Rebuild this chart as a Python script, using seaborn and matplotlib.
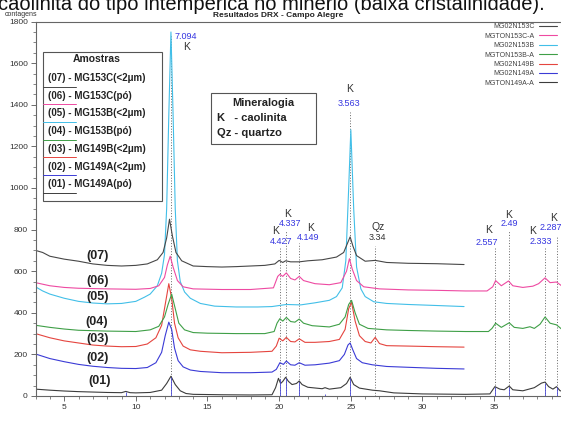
import matplotlib
matplotlib.use("Agg")
import matplotlib.pyplot as plt
import matplotlib.patches as mpatches
from matplotlib.ticker import MultipleLocator
import pandas as pd
import seaborn as sns

# -------------------------------------------------------------
# 1) DADOS – difratogramas (2theta, contagens)
# -------------------------------------------------------------
tt_01 = [3, 4, 5, 6, 7, 8, 9, 9.3, 9.6, 10, 11, 11.8, 12.15, 12.45, 12.75, 13.1, 13.5, 14, 16, 18,
         19.5, 19.75, 19.95, 20.1, 20.25, 20.45, 20.65, 20.9, 21.2, 21.4, 21.6, 22, 23, 23.2, 23.5,
         24.3, 24.7, 24.95, 25.2, 25.6, 26.5, 27, 28, 30, 33, 34.7, 35.05, 35.4, 35.7, 36.05, 36.3,
         37, 37.8, 38.3, 38.55, 38.8, 39.1, 39.35, 39.6, 40.5]
ct_01 = [33, 28, 24, 21, 19, 17, 16, 22, 16, 15, 17, 28, 60, 95, 55, 25, 12, 8, 6, 5,
         6, 40, 85, 60, 70, 90, 70, 55, 60, 72, 55, 42, 35, 40, 33,
         40, 60, 90, 55, 38, 28, 25, 15, 10, 8, 10, 45, 33, 30, 48, 30,
         25, 40, 62, 67, 45, 33, 45, 25, 20]

tt_02 = [3, 4, 5, 6, 7, 8, 9, 10, 10.8, 11.4, 11.8, 12.05, 12.3, 12.5, 12.7, 12.95, 13.3, 13.8,
         14.5, 16, 18, 19.5, 19.8, 20.05, 20.3, 20.5, 20.8, 21.1, 21.4, 21.8, 22.5, 23.5, 24.2,
         24.55, 24.8, 24.95, 25.15, 25.4, 25.8, 26.5, 27.5, 29, 31, 32.9]
ct_02 = [202, 180, 165, 152, 143, 137, 133, 132, 137, 160, 210, 290, 355, 320, 230, 170, 140, 125,
         118, 112, 112, 115, 128, 160, 152, 168, 150, 148, 160, 148, 150, 158, 170,
         200, 245, 255, 220, 180, 160, 150, 142, 138, 133, 130]

tt_03 = [3, 4, 5, 6, 7, 8, 9, 10, 10.8, 11.4, 11.8, 12.05, 12.3, 12.5, 12.7, 12.95, 13.3, 13.8,
         14.5, 16, 18, 19.5, 19.8, 20.0, 20.25, 20.5, 20.8, 21.1, 21.4, 21.8, 22.5, 23.5, 24.2,
         24.6, 24.85, 25.05, 25.3, 25.6, 26.0, 26.4, 26.7, 27.0, 27.5, 29, 31, 32.9]
ct_03 = [300, 280, 265, 255, 245, 240, 237, 238, 250, 280, 340, 440, 540, 470, 350, 280, 240, 222,
         215, 208, 210, 215, 240, 278, 265, 282, 262, 260, 275, 258, 258, 262, 272,
         320, 420, 450, 360, 290, 262, 255, 282, 252, 242, 240, 237, 235]

tt_04 = [3, 4, 5, 6, 8, 10, 11, 11.6, 12.0, 12.25, 12.5, 12.75, 13.0, 13.4, 14, 15, 17, 19,
         19.65, 19.85, 20.05, 20.25, 20.5, 20.8, 21.1, 21.4, 21.7, 22.3, 23.5, 24.2, 24.6, 24.85,
         25.05, 25.3, 25.6, 26.2, 27.5, 29, 31, 33, 34.6, 34.85, 35.1, 35.5, 36.05, 36.4, 37.0,
         37.5, 37.8, 38.2, 38.55, 38.9, 39.35, 39.7, 40.5]
ct_04 = [340, 330, 322, 316, 312, 310, 318, 335, 380, 440, 490, 420, 350, 318, 305, 302, 300, 300,
         310, 350, 372, 360, 378, 358, 355, 370, 350, 338, 332, 345, 380, 440,
         460, 400, 345, 325, 318, 315, 312, 310, 310, 325, 350, 330, 352, 330, 325,
         333, 325, 345, 380, 350, 342, 322, 318]

tt_05 = [3, 3.5, 4, 5, 6, 7, 8, 9, 10, 10.6, 11.0, 11.5, 11.8, 12.0, 12.15, 12.3, 12.45, 12.6,
         12.75, 12.9, 13.1, 13.4, 13.8, 14.5, 15.5, 17, 18.5, 19.5, 20.5, 21.5, 22.5, 23.5, 24.0,
         24.4, 24.65, 24.85, 25.0, 25.2, 25.4, 25.7, 26.0, 26.6, 27.5, 29, 31, 32.9]
ct_05 = [525, 505, 490, 470, 455, 447, 443, 445, 455, 475, 490, 530, 590, 680, 900, 1350, 1750, 1350,
         900, 650, 550, 500, 470, 445, 432, 428, 428, 430, 440, 438, 448, 460, 478,
         520, 650, 1000, 1280, 900, 620, 515, 478, 453, 445, 440, 435, 430]

tt_06 = [3, 4, 5, 6, 8, 10, 11, 11.6, 12.0, 12.2, 12.4, 12.6, 12.9, 13.3, 14, 16, 18, 19.6,
         19.9, 20.05, 20.25, 20.5, 20.8, 21.1, 21.4, 21.7, 22.5, 23.5, 24.3, 24.7, 24.9, 25.1,
         25.4, 25.9, 27, 29, 31, 33, 34.5, 34.9, 35.1, 35.5, 36.0, 36.3, 37, 37.7, 38.1, 38.55,
         38.9, 39.35, 39.7, 40.5]
ct_06 = [545, 530, 522, 518, 515, 513, 517, 530, 570, 630, 672, 620, 555, 525, 515, 512, 512, 520,
         575, 585, 575, 592, 565, 558, 575, 555, 540, 535, 545, 600, 660, 610,
         555, 525, 515, 510, 508, 505, 505, 525, 555, 530, 553, 530, 522, 528, 540, 568,
         545, 548, 530, 525]

tt_07 = [3, 3.5, 4, 5, 6, 7, 8, 9, 10, 10.8, 11.5, 11.9, 12.15, 12.35, 12.55, 12.8, 13.2, 14, 15,
         16, 17, 18, 19, 19.7, 20.0, 20.25, 20.45, 20.8, 21.4, 22, 23, 24, 24.5, 24.8, 24.95,
         25.15, 25.4, 26, 26.7, 27.5, 29, 31, 32.9]
ct_07 = [700, 690, 672, 658, 648, 635, 628, 625, 628, 635, 655, 690, 760, 850, 770, 690, 650, 625, 622,
         620, 622, 625, 628, 635, 652, 642, 650, 645, 645, 650, 655, 668, 690, 740, 765,
         720, 675, 648, 652, 642, 638, 636, 632]

amostra_tag = ["(01)", "(02)", "(03)", "(04)", "(05)", "(06)", "(07)"]
amostra_nome = ["(01) - MG149A(pó)", "(02) - MG149A(<2μm)", "(03) - MG149B(<2μm)",
                "(04) - MG153B(pó)", "(05) - MG153B(<2μm)", "(06) - MG153C(pó)",
                "(07) - MG153C(<2μm)"]
arquivo = ["MGTON149A-A", "MG02N149A", "MG02N149B", "MGTON153B-A",
           "MG02N153B", "MGTON153C-A", "MG02N153C"]
cores = ["#3c3c3c", "#3b3bd6", "#e5453f", "#3f9f47", "#42bfe8", "#ee4aa2", "#474747"]

# picos identificados (2theta, d, mineral)
pico_tt = [12.47, 20.04, 20.46, 21.40, 24.97, 26.67, 35.07, 36.04, 38.56, 39.37]
pico_d = ["7.094", "4.427", "4.337", "4.149", "3.563", "3.34", "2.557", "2.49", "2.333", "2.287"]
pico_min = ["K", "K", "K", "K", "K", "Qz", "K", "K", "K", "K"]
pico_topo = [1731, 711, 793, 735, 1365, 721, 711, 793, 711, 764]
# barras azuis (picos da amostra 01)
barra_tt = [9.3, 12.47, 20.04, 20.46, 21.40, 23.2, 24.97, 35.07, 36.04, 38.56, 39.37]
barra_ct = [20, 90, 80, 85, 68, 12, 85, 42, 45, 62, 42]

curvas = [(tt_01, ct_01), (tt_02, ct_02), (tt_03, ct_03), (tt_04, ct_04),
          (tt_05, ct_05), (tt_06, ct_06), (tt_07, ct_07)]

# -------------------------------------------------------------
# 2) POSIÇÕES DOS RÓTULOS (coord. de dados)
# -------------------------------------------------------------
lbl_min_xy = [(13.51, 1678), (19.72, 793), (20.56, 875), (22.17, 808), (24.89, 1476),
              (26.91, 813), (34.59, 798), (35.98, 870), (37.65, 795), (39.12, 856)]
lbl_d_xy = [(13.51, 1726), (20.11, 742), (20.74, 827), (22.03, 764), (24.89, 1404),
            (26.84, 764), (34.52, 740), (36.05, 827), (38.22, 745), (38.98, 808)]
tag_xy = [(7.44, 72), (7.30, 183), (7.30, 274), (7.30, 356), (7.30, 476), (7.30, 553), (7.30, 673)]

# -------------------------------------------------------------
# 3) FIGURA
# -------------------------------------------------------------
sns.set_style("ticks")
plt.rcParams["font.family"] = ["Liberation Sans", "DejaVu Sans"]

W, H = 561, 421
fig = plt.figure(figsize=(W / 100, H / 100), dpi=100)
ax = fig.add_axes([35.5 / W, 1 - 396 / H, 559 / W, (396 - 21.6) / H])

def px(x, y):
    return x / W, 1 - y / H

# linhas pontilhadas das reflexões
ax.vlines(pico_tt, 0, pico_topo, colors="#666666", linestyles=(0, (1, 1.8)), linewidth=0.7, zorder=1)
ax.vlines(barra_tt, 0, barra_ct, colors="#4a4ad8", linewidth=0.6, zorder=3)

handles = []
for (tt, ct), cor, nome in zip(curvas, cores, arquivo):
    dfc = pd.DataFrame({"2theta": tt, "contagens": ct})
    sns.lineplot(data=dfc, x="2theta", y="contagens", color=cor, linewidth=0.8,
                 estimator=None, sort=False, ax=ax, zorder=2)
    ax.lines[-1].set_label(nome)
    handles.append(ax.lines[-1])

for (x, y), m in zip(lbl_min_xy, pico_min):
    ax.text(x, y, m, fontsize=7.5, color="#333333", ha="center", va="center")
for (x, y), d, m in zip(lbl_d_xy, pico_d, pico_min):
    ax.text(x, y, d, fontsize=6.5, color="#333333" if m == "Qz" else "#3535e0",
            ha="center", va="center")
for (x, y), t in zip(tag_xy, amostra_tag):
    ax.text(x, y, t, fontsize=9, fontweight="bold", color="#222222", ha="center", va="center")

ax.set_xlim(3, 42)
ax.set_ylim(0, 1800)
ax.set_xlabel("")
ax.set_ylabel("")
ax.xaxis.set_major_locator(MultipleLocator(5))
ax.xaxis.set_minor_locator(MultipleLocator(1))
ax.yaxis.set_major_locator(MultipleLocator(200))
ax.yaxis.set_minor_locator(MultipleLocator(50))
ax.tick_params(which="major", length=3.5, width=0.6, color="#555555", labelsize=6,
               labelcolor="#333333", pad=2)
ax.tick_params(which="minor", length=2, width=0.5, color="#555555")
for s in ax.spines.values():
    s.set_color("#666666")
    s.set_linewidth(0.8)

# legenda dos arquivos (canto superior direito)
ax.legend(handles[::-1], arquivo[::-1], loc="upper right", bbox_to_anchor=px(563, 17),
          bbox_transform=fig.transFigure, frameon=False, markerfirst=False, fontsize=5,
          handlelength=2.6, handletextpad=0.6, labelspacing=0.35, labelcolor="#444444")

# quadro "Amostras"
fig.patches.append(mpatches.Rectangle(px(43, 201), 119 / W, 149 / H, transform=fig.transFigure,
                                      fill=False, edgecolor="#555555", linewidth=0.8))
fig.text(*px(97, 59), "Amostras", fontsize=7.5, fontweight="bold", ha="center", va="center",
         color="#222222")
for i, (nome, cor) in enumerate(zip(amostra_nome[::-1], cores[::-1])):
    y = 78 + i * 17.7
    fig.text(*px(48, y), nome, fontsize=7, fontweight="bold", ha="left", va="center",
             color="#222222")
    fig.lines.append(plt.Line2D([43 / W, 76 / W], [1 - (y + 8.5) / H] * 2,
                                transform=fig.transFigure, color=cor, linewidth=0.7))

# quadro "Mineralogia"
fig.patches.append(mpatches.Rectangle(px(211, 144), 105 / W, 51 / H, transform=fig.transFigure,
                                      fill=False, edgecolor="#555555", linewidth=0.8))
fig.text(*px(263, 103), "Mineralogia", fontsize=8, fontweight="bold", ha="center", va="center",
         color="#222222")
fig.text(*px(217, 118), "K   - caolinita", fontsize=8, fontweight="bold", ha="left", va="center",
         color="#222222")
fig.text(*px(217, 133), "Qz - quartzo", fontsize=8, fontweight="bold", ha="left", va="center",
         color="#222222")

# textos do topo
fig.text(*px(-2, 10), "caolinita do tipo intempérica no minério (baixa cristalinidade).",
         fontsize=14.5, ha="left", va="baseline", color="#111111")
fig.text(*px(5, 14.5), "contagens", fontsize=5, ha="left", va="center", color="#333333")
fig.text(*px(278, 15.5), "Resultados DRX - Campo Alegre", fontsize=6, fontweight="bold",
         ha="center", va="center", color="#222222")

fig.savefig("out.png", dpi=100)
